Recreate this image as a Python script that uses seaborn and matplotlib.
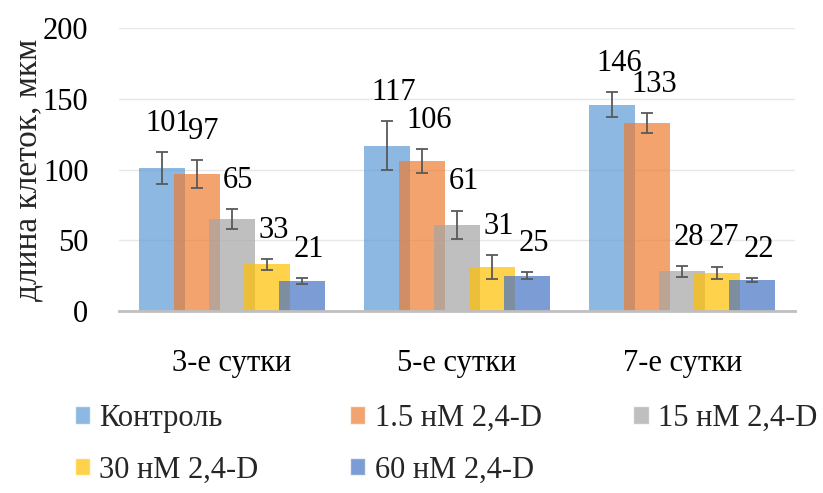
import pandas as pd
import matplotlib.pyplot as plt
import seaborn as sns
from matplotlib.patches import Patch

days = ['3-е сутки', '5-е сутки', '7-е сутки']
treatments = ['Контроль', '1.5 нМ 2,4-D', '15 нМ 2,4-D', '30 нМ 2,4-D', '60 нМ 2,4-D']

control = [101, 117, 146]
nm_1_5 = [97, 106, 133]
nm_15 = [65, 61, 28]
nm_30 = [33, 31, 27]
nm_60 = [21, 25, 22]

err_control = [11.4, 17, 9]
err_1_5 = [9.7, 8.7, 7]
err_15 = [7, 10, 4]
err_30 = [4, 8.5, 4.5]
err_60 = [2.1, 2.5, 1.2]

colors = ['#5B9BD5', '#ED7D31', '#A5A5A5', '#FFC000', '#4472C4']

values = [control, nm_1_5, nm_15, nm_30, nm_60]
errors = [err_control, err_1_5, err_15, err_30, err_60]

rows = []
for t, vals, errs in zip(treatments, values, errors):
    for d, v, e in zip(days, vals, errs):
        rows.append({'day': d, 'treatment': t, 'value': v, 'err': e})
df = pd.DataFrame(rows)

sns.set_theme(style='white')
plt.rcParams['font.family'] = ['Liberation Serif', 'DejaVu Serif']

fig = plt.figure(figsize=(8.23, 4.93), dpi=100)
ax = fig.add_axes([0.1446, 0.369, 0.8214, 0.574])

sns.barplot(data=df, x='day', y='value', hue='treatment', order=days,
            hue_order=treatments, palette=colors, alpha=0.7, width=0.778,
            saturation=1, errorbar=None, legend=False, ax=ax, linewidth=0)

# excel-style overlapping bars: widen each bar around its centre
new_w = 0.204
bars = list(ax.patches)
for p in bars:
    c = p.get_x() + p.get_width() / 2
    p.set_x(c - new_w / 2)
    p.set_width(new_w)

for k, t in enumerate(treatments):
    sub = df[df['treatment'] == t]
    for j, d in enumerate(days):
        p = bars[k * len(days) + j]
        c = p.get_x() + p.get_width() / 2
        row = sub[sub['day'] == d].iloc[0]
        ax.errorbar(c, row['value'], yerr=row['err'], color='#595959',
                    elinewidth=1.3, capsize=4, capthick=1.3, zorder=5)
        ax.text(c + 0.03, row['value'] + row['err'] + 10, str(int(row['value'])),
                ha='center', va='bottom', fontsize=22, color='black', zorder=6)

ax.set_xlim(-0.5, 2.5)
ax.set_ylim(0, 200)
ax.set_yticks([0, 50, 100, 150, 200])
ax.yaxis.grid(True, color='#E8E8E8', linewidth=1)
ax.set_axisbelow(True)
for s in ['top', 'right', 'left']:
    ax.spines[s].set_visible(False)
ax.spines['bottom'].set_color('#BFBFBF')
ax.spines['bottom'].set_linewidth(2)
ax.tick_params(axis='y', labelsize=22, pad=22, length=0, colors='black')
ax.tick_params(axis='x', labelsize=22, pad=27, length=0, colors='black')
ax.set_xlabel('')
ax.set_ylabel('длина клеток, мкм', fontsize=24)
ax.yaxis.set_label_coords(-0.112, 0.5)

handles = [Patch(facecolor=c, alpha=0.7, label=t) for c, t in zip(colors, treatments)]
order = [0, 3, 1, 4, 2]
fig.legend([handles[i] for i in order], [treatments[i] for i in order],
           loc='upper left', bbox_to_anchor=(0.076, 0.206), ncol=3, frameon=False,
           fontsize=22, handlelength=0.5, handleheight=0.5, handletextpad=0.3,
           columnspacing=3.0, labelspacing=0.75, borderaxespad=0)

fig.savefig('out.png', dpi=100)
